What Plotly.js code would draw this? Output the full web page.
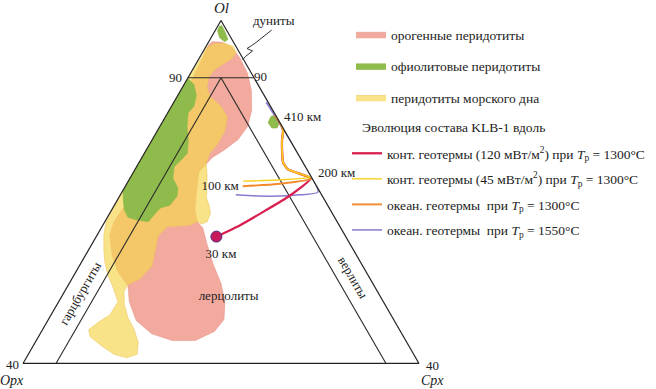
<!DOCTYPE html>
<html><head><meta charset="utf-8">
<script src="https://cdn.plot.ly/plotly-3.0.1.min.js"></script>
<style>html,body{margin:0;padding:0;background:#fff}#chart{width:656px;height:389px}</style>
</head><body><div id="chart"></div>
<script>
// ---- Fields (Ol = top, Opx = bottom-left, Cpx = bottom-right; Opx = 100 - Ol - Cpx) ----
const orogenOl  = [95.6,96.3,96.2,95.3,93.5,90.8,87.8,84.3,81.5,79.2,77.3,76.1,74.9,73.5,71.2,69.0,66.9,64.8,63.7,60.8,57.4,54.0,50.8,47.7,45.6,44.0,44.0,45.2,47.5,50.8,53.6,56.0,59.0,62.5,64.8,67.7,77.3,86.9,91.3];
const orogenCpx = [0.2,0.5,2.1,4.0,6.1,8.6,10.7,12.5,13.3,13.0,11.8,10.7,10.3,9.9,10.8,11.7,12.6,14.0,15.4,17.5,20.1,23.0,25.2,26.6,26.2,24.1,20.6,16.9,13.4,10.7,9.1,6.4,4.0,1.9,1.4,1.6,2.1,1.1,0.6];

const seafloorOl  = [94.2,95.3,96.0,96.0,95.5,94.4,93.4,92.3,91.5,90.2,88.3,86.6,85.0,83.1,80.8,78.5,76.8,75.1,73.0,70.3,69.0,67.6,66.2,64.8,64.4,64.8,64.2,63.9,62.3,59.9,57.1,54.8,53.8,52.6,50.3,48.0,45.9,43.7,41.6,41.0,41.6,43.0,44.7,45.9,47.2,48.5,50.8,53.3,55.5,57.8,59.9,62.5,64.8,70.3,89.9];
const seafloorCpx = [0.2,0.2,1.0,2.6,4.1,5.1,5.0,4.1,3.4,3.1,3.7,5.1,7.5,9.4,10.2,10.3,9.9,10.2,11.4,12.7,13.3,14.4,15.3,15.5,14.9,14.0,13.2,9.9,9.3,10.1,11.0,10.3,9.0,9.0,10.2,11.9,13.9,15.6,16.5,15.2,13.0,10.5,7.8,7.0,7.8,8.9,9.0,7.0,5.1,3.5,2.3,1.0,0.2,0,0];

const ophioliteOl  = [89.9,88.8,86.9,85.0,83.8,81.3,79.1,76.8,75.4,74.4,72.4,70.7,69.3,67.7,67.2,65.8,64.8,65.1,65.6,66.9,68.6,70.3];
const ophioliteCpx = [0,1.5,2.8,3.4,3.1,4.2,5.5,6.5,6.1,5.7,6.5,8.1,8.7,8.4,7.2,6.8,6.6,4.7,3.1,1.9,0.9,0];
const ophioliteApexOl  = [99.0,99.1,97.9,96.7,96.3,97.0,98.3];
const ophioliteApexCpx = [0.2,0.6,1.7,2.7,2.4,1.3,0.3];
const ophioliteDeepOl  = [83.1,83.4,82.9,82.0,81.2,81.2,82.2];
const ophioliteDeepCpx = [15.9,16.2,16.9,17.8,17.9,17.1,16.0];

// ---- Rock-name boundaries ----
const duniteOl = [90,90],  duniteCpx = [0,10];
const harzOl   = [90,40],  harzCpx   = [5,5];
const wehrOl   = [90,40],  wehrCpx   = [5,55];

// ---- KLB-1 evolution paths ----
const contHotOl   = [62.2,64.2,66.7,69.3,72.4,73.3,74.0,75.2,77.3,79.1,80.8,82.4,83.4];
const contHotCpx  = [18.2,20.8,23.3,25.7,27.4,25.0,23.1,21.8,20.6,19.7,19.0,17.6,16.5];
const contColdOl  = [71.9,72.1,72.6,73.3,74.0,75.2,77.3,79.1,80.8,82.4,83.4];
const contColdCpx = [17.4,22.6,27.3,25.0,23.1,21.8,20.6,19.7,19.0,17.6,16.5];
const ocean1300Ol  = [71.0,71.4,72.3,73.3,74.0,75.2,77.3,79.1,80.8,82.4,83.4];
const ocean1300Cpx = [17.8,22.9,27.5,25.0,23.1,21.8,20.6,19.7,19.0,17.6,16.5];
const ocean1550Ol  = [69.5,69.3,69.3,69.5,70.0,85.7];
const ocean1550Cpx = [17.5,21.0,24.3,27.2,29.7,14.0];
const startOl = [62.2], startCpx = [18.2];

// ---- Labels inside the diagram (anchored in ternary coordinates) ----
const labelText = ['90','100 км','30 км','лерцолиты'];
const labelOl   = [90,71.0,59.0,51.7];
const labelCpx  = [10,17.2,20.5,25.3];
const labelPos  = ['middle right','middle left','middle center','middle center'];

// ---- Corner / outer labels ----
const cornerText = ['<i>Ol</i>','<i>Opx</i>','<i>Cpx</i>','40','40','90','дуниты','410 км','200 км'];

const legendNames = ['орогенные перидотиты','офиолитовые перидотиты','перидотиты морского дна'];
const legendTitle = 'Эволюция состава KLB-1 вдоль';
const lineNames = [
  'конт. геотермы (120 мВт/м<sup>2</sup>) при <i>T</i><sub>р</sub> = 1300°C',
  'конт. геотермы (45 мВт/м<sup>2</sup>) при <i>T</i><sub>р</sub> = 1300°C',
  'океан. геотермы  при <i>T</i><sub>р</sub> = 1300°C',
  'океан. геотермы  при <i>T</i><sub>р</sub> = 1550°C'
];
const fieldNames = ['гарцбургиты','верлиты'];

const FONT = 'Liberation Serif, Times New Roman, serif';
const PINK = 'rgb(242,170,158)', YEL = 'rgba(245,214,80,0.68)', GRN = 'rgb(143,187,76)';
const W = 656, H = 389;
const px = x => x / W, py = y => 1 - y / H;
const LFONT = {family:FONT, size:13.5, color:'#222'};

function field(a, c, name, fill, line, rank, show, group) {
  return {type:'scatterternary', a:a, c:c, mode:'lines', fill:'toself', fillcolor:fill,
    line:{color:line, width:0.7}, name:name, legend:'legend', legendrank:rank,
    legendgroup:group, showlegend:show, hoverinfo:'skip'};
}
function bound(a, c) {
  return {type:'scatterternary', a:a, c:c, mode:'lines', line:{color:'#2a2a2a', width:1.1},
    showlegend:false, hoverinfo:'skip'};
}
function path(a, c, name, color, width, rank) {
  return {type:'scatterternary', a:a, c:c, mode:'lines', line:{color:color, width:width, shape:'spline', smoothing:0.5},
    name:name, legend:'legend2', legendrank:rank, legendgroup:'p'+rank, hoverinfo:'skip'};
}

const data = [
  field(orogenOl, orogenCpx, legendNames[0], PINK, 'rgba(230,140,128,0.7)', 1, true, 'g1'),
  field(seafloorOl, seafloorCpx, legendNames[2], YEL, 'rgba(238,196,90,0.8)', 3, true, 'g3'),
  field(ophioliteOl, ophioliteCpx, legendNames[1], GRN, GRN, 2, true, 'g2'),
  field(ophioliteApexOl, ophioliteApexCpx, legendNames[1], GRN, GRN, 2, false, 'g2'),
  field(ophioliteDeepOl, ophioliteDeepCpx, legendNames[1], GRN, GRN, 2, false, 'g2'),
  bound(duniteOl, duniteCpx), bound(harzOl, harzCpx), bound(wehrOl, wehrCpx),
  path(ocean1550Ol, ocean1550Cpx, lineNames[3], '#8b78cf', 1.5, 4),
  path(contHotOl, contHotCpx, lineNames[0], '#d81f50', 2.3, 1),
  path(ocean1300Ol, ocean1300Cpx, lineNames[2], '#f28a2c', 1.9, 3),
  path(contColdOl, contColdCpx, lineNames[1], '#f8d01e', 1.4, 2),
  {type:'scatterternary', a:startOl, c:startCpx, mode:'markers',
   marker:{size:11, color:'#c8175a', line:{color:'#4b2d84', width:1}}, showlegend:false, hoverinfo:'skip'},
  {type:'scatterternary', a:labelOl, c:labelCpx, mode:'text', text:labelText, textposition:labelPos,
   textfont:{family:FONT, size:13, color:'#222'}, cliponaxis:false, showlegend:false, hoverinfo:'skip'}
];

function note(text, x, y, opts) {
  return Object.assign({text:text, xref:'paper', yref:'paper', x:px(x), y:py(y), showarrow:false,
    xanchor:'center', yanchor:'middle', font:{family:FONT, size:13, color:'#222'}}, opts || {});
}

const axisBase = {showgrid:false, ticks:'', showticklabels:false, linecolor:'#222', linewidth:1.2, title:{text:''}};
const layout = {
  width:W, height:H, margin:{l:0,r:0,t:0,b:0},
  paper_bgcolor:'#fff', font:{family:FONT, size:13, color:'#222'},
  ternary:{
    sum:100, bgcolor:'rgba(0,0,0,0)',
    domain:{x:[23/W, 419/W], y:[1-364/H, 1-20/H]},
    aaxis:Object.assign({}, axisBase, {min:40}),
    baxis:Object.assign({}, axisBase, {min:0}),
    caxis:Object.assign({}, axisBase, {min:0})
  },
  showlegend:true,
  legend:{x:px(351), y:py(19), xanchor:'left', yanchor:'top', bgcolor:'rgba(0,0,0,0)',
    traceorder:'grouped', tracegroupgap:11, font:LFONT},
  legend2:{x:px(347), y:py(138), xanchor:'left', yanchor:'top', bgcolor:'rgba(0,0,0,0)',
    traceorder:'grouped', tracegroupgap:5, font:LFONT},
  annotations:[
    note(cornerText[0], 221, 7.5, {font:{family:FONT, size:15, color:'#222'}}),
    note(cornerText[1], 12, 380, {font:{family:FONT, size:14, color:'#222'}}),
    note(cornerText[2], 432, 380, {font:{family:FONT, size:14, color:'#222'}}),
    note(cornerText[3], 12, 364),
    note(cornerText[4], 432, 365),
    note(cornerText[5], 175.5, 77.7),
    note(cornerText[6], 273.5, 21),
    note(cornerText[7], 302.5, 116),
    note(cornerText[8], 336.7, 172.7),
    note(legendTitle, 360, 127, {xanchor:'left', font:LFONT}),
    note(fieldNames[0], 80, 293.5, {textangle:-60}),
    note(fieldNames[1], 353, 277.5, {textangle:60})
  ],
  shapes:[
    {type:'path', xref:'paper', yref:'paper',
     path:'M0.4142,0.9229 L0.3887,0.8887 L0.3837,0.8830 L0.3765,0.8753 L0.3849,0.8689 L0.3742,0.8548 L0.3697,0.8458',
     line:{color:'#333', width:1}}
  ]
};

Plotly.newPlot('chart', data, layout, {staticPlot:true});
</script></body></html>
